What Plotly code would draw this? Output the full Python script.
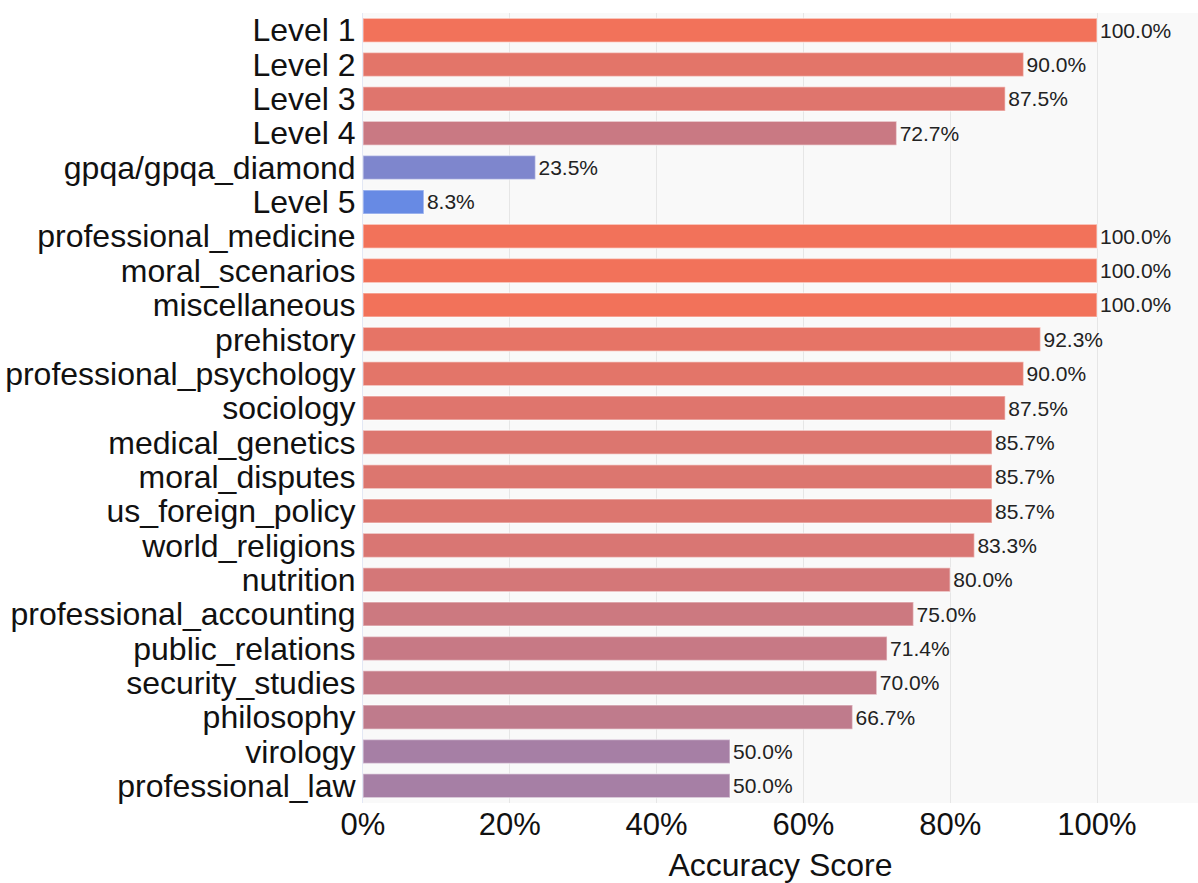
import plotly.graph_objects as go

categories = ["Level 1", "Level 2", "Level 3", "Level 4", "gpqa/gpqa_diamond", "Level 5",
              "professional_medicine", "moral_scenarios", "miscellaneous", "prehistory",
              "professional_psychology", "sociology", "medical_genetics", "moral_disputes",
              "us_foreign_policy", "world_religions", "nutrition", "professional_accounting",
              "public_relations", "security_studies", "philosophy", "virology", "professional_law"]
scores = [1.0, 0.9, 0.875, 0.727, 0.235, 0.083,
          1.0, 1.0, 1.0, 0.923,
          0.9, 0.875, 0.857, 0.857,
          0.857, 0.833, 0.8, 0.75,
          0.714, 0.7, 0.667, 0.5, 0.5]
x_ticks = [0, 0.2, 0.4, 0.6, 0.8, 1.0]
x_tick_labels = ["0%", "20%", "40%", "60%", "80%", "100%"]

fig = go.Figure(go.Bar(
    x=scores, y=categories, orientation="h",
    marker=dict(color=scores, colorscale=[[0, "rgb(90,140,240)"], [1, "rgb(242,114,90)"]],
                cmin=0, cmax=1, line=dict(color="rgba(255,255,255,0.45)", width=1.5)),
    texttemplate="%{x:.1%}", textposition="outside", cliponaxis=False,
    textfont=dict(size=21, color="#222", family="Liberation Sans, Arial"),
    width=0.7,
))

fig.update_layout(
    width=1198, height=883,
    margin=dict(l=363, r=0, t=13, b=80),
    plot_bgcolor="#f9f9f9", paper_bgcolor="white",
    font=dict(family="Liberation Sans, Arial", color="#111", size=30),
    showlegend=False,
)
fig.update_xaxes(range=[0, 1.1376], tickvals=x_ticks, ticktext=x_tick_labels,
                 showgrid=True, gridcolor="#e6e6e6", gridwidth=1, zeroline=False,
                 tickfont=dict(size=31), ticks="", ticklen=0,
                 title=dict(text="Accuracy Score", font=dict(size=32), standoff=15))
fig.update_yaxes(categoryorder="array", categoryarray=categories, autorange="reversed",
                 tickmode="array", tickvals=categories, ticktext=categories,
                 tickfont=dict(size=32), showgrid=False, showline=True,
                 linecolor="#e3e8f5", linewidth=1, ticks="")

fig.write_html("out.html")
